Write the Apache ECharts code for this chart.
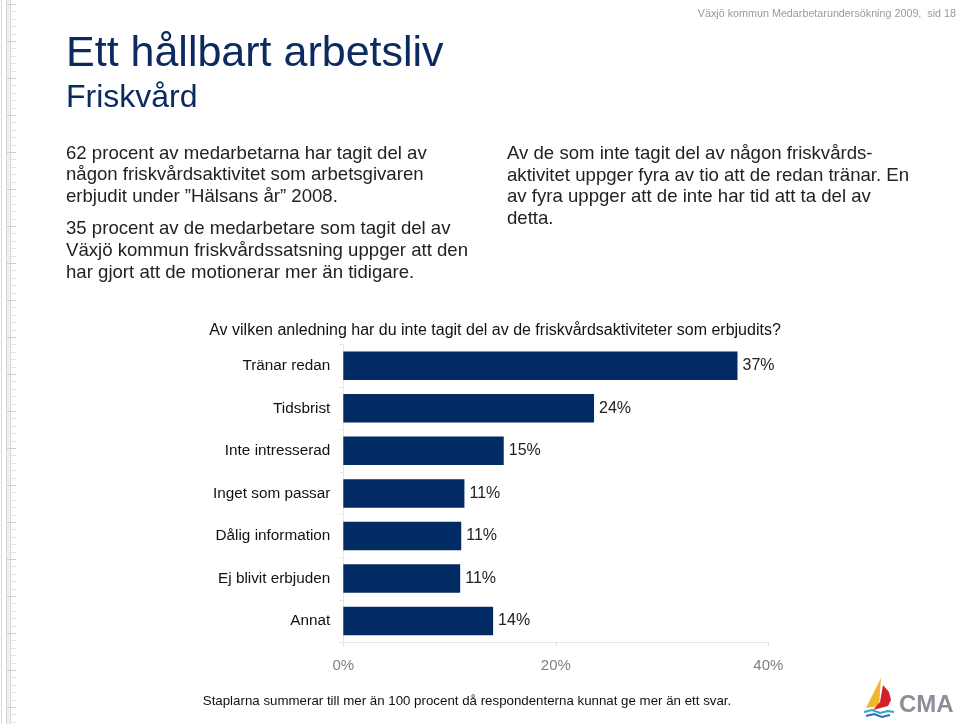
<!DOCTYPE html>
<html>
<head>
<meta charset="utf-8">
<script src="https://cdn.jsdelivr.net/npm/echarts@6/dist/echarts.min.js"></script>
<style>
html,body{margin:0;padding:0;background:#fff;}
#chart{width:960px;height:724px;}
</style>
</head>
<body>
<div id="chart"></div>
<script>
// ---- Data ----
var categories = ['Tränar redan', 'Tidsbrist', 'Inte intresserad', 'Inget som passar', 'Dålig information', 'Ej blivit erbjuden', 'Annat'];
var values = [37.1, 23.6, 15.1, 11.4, 11.1, 11.0, 14.1];
var axisTicks = [0, 20, 40];

var titleText = 'Ett hållbart arbetsliv';
var subtitleText = 'Friskvård';
var headerText = 'Växjö kommun Medarbetarundersökning 2009,  sid 18';
var leftLines = [
  '62 procent av medarbetarna har tagit del av',
  'någon friskvårdsaktivitet som arbetsgivaren',
  'erbjudit under \u201dHälsans år\u201d 2008.',
  '35 procent av de medarbetare som tagit del av',
  'Växjö kommun friskvårdssatsning uppger att den',
  'har gjort att de motionerar mer än tidigare.'
];
var rightLines = [
  'Av de som inte tagit del av någon friskvårds-',
  'aktivitet uppger fyra av tio att de redan tränar. En',
  'av fyra uppger att de inte har tid att ta del av',
  'detta.'
];
var chartQuestion = 'Av vilken anledning har du inte tagit del av de friskvårdsaktiviteter som erbjudits?';
var footnote = 'Staplarna summerar till mer än 100 procent då respondenterna kunnat ge mer än ett svar.';

var FONT = '"Liberation Sans", Arial, sans-serif';
var NAVY = '#0b2b60';

var graphics = [];
function txt(x, y, s, size, color, align, extra) {
  var st = {text: s, x: x, y: y, fontSize: size, fontFamily: FONT, fill: color, textAlign: align || 'left', textVerticalAlign: 'middle'};
  if (extra) for (var k in extra) st[k] = extra[k];
  graphics.push({type: 'text', silent: true, style: st});
}

// left ruler decoration
graphics.push({type: 'rect', silent: true, shape: {x: 6, y: 0, width: 4, height: 724}, style: {fill: '#f0f0f0'}});
[1, 6, 10].forEach(function (x) {
  graphics.push({type: 'line', silent: true, shape: {x1: x + 0.5, y1: 0, x2: x + 0.5, y2: 724}, style: {stroke: '#d8d8d8', lineWidth: 1}});
});
for (var yy = 4, i = 0; yy < 724; yy += 7.4, i++) {
  var major = (i % 5 === 0);
  graphics.push({type: 'line', silent: true, shape: {x1: major ? 6 : 10, y1: Math.round(yy) + 0.5, x2: 16, y2: Math.round(yy) + 0.5}, style: {stroke: major ? '#cfcfcf' : '#e2e2e2', lineWidth: 1}});
}

// header & titles
txt(956, 14, headerText, 10.75, '#9a9a9a', 'right');
txt(66, 54, titleText, 43, NAVY, 'left');
txt(66, 98, subtitleText, 32, NAVY, 'left');

var leftY = [154, 175, 197, 229, 251, 272.5];
leftLines.forEach(function (s, i) { txt(66, leftY[i], s, 18.6, '#222', 'left'); });
var rightY = [154, 175.5, 197, 218.5];
rightLines.forEach(function (s, i) { txt(507, rightY[i], s, 18.6, '#222', 'left'); });

txt(495, 331, chartQuestion, 16, '#111', 'center');
txt(467, 701, footnote, 13.3, '#111', 'center');

// CMA logo
graphics.push({type: 'polygon', silent: true, shape: {points: [[881, 678], [866, 708], [879, 706]]}, style: {fill: '#f2b530'}});
graphics.push({type: 'polygon', silent: true, shape: {points: [[883, 685], [889, 692], [891, 700], [888, 706], [873, 710], [880, 702]]}, style: {fill: '#d2232a'}});
graphics.push({type: 'polyline', silent: true, shape: {points: [[864, 712], [872, 710], [880, 713], [888, 711], [894, 712]]}, style: {stroke: '#2aa7c9', lineWidth: 2, fill: 'none'}});
graphics.push({type: 'polyline', silent: true, shape: {points: [[866, 716], [874, 714], [882, 717], [890, 715]]}, style: {stroke: '#2f6db5', lineWidth: 2, fill: 'none'}});
txt(899, 705, 'CMA', 24, '#8a9097', 'left', {fontWeight: 'bold'});

var chart = echarts.init(document.getElementById('chart'), null, {renderer: 'canvas'});
chart.setOption({
  animation: false,
  backgroundColor: '#ffffff',
  textStyle: {fontFamily: FONT},
  grid: {left: 343.3, right: 191.7, top: 344.5, bottom: 81.7, containLabel: false},
  xAxis: {
    type: 'value', min: axisTicks[0], max: axisTicks[axisTicks.length - 1], interval: axisTicks[1] - axisTicks[0],
    splitLine: {show: false},
    axisLine: {show: true, lineStyle: {color: '#e6e6e6'}},
    axisTick: {show: true, length: 4, lineStyle: {color: '#e0e0e0'}},
    axisLabel: {formatter: '{value}%', fontSize: 15, color: '#7f7f7f', margin: 16, fontFamily: FONT}
  },
  yAxis: {
    type: 'category', inverse: true, data: categories,
    axisLine: {show: true, lineStyle: {color: '#e6e6e6'}},
    axisTick: {show: true, length: 4, lineStyle: {color: '#e6e6e6'}},
    axisLabel: {fontSize: 15.3, color: '#111', margin: 13, fontFamily: FONT}
  },
  series: [{
    type: 'bar', data: values, barCategoryGap: '33%',
    itemStyle: {color: '#032b63'},
    label: {show: true, position: 'right', distance: 5, fontSize: 16, color: '#222', fontFamily: FONT,
      formatter: function (p) { return Math.round(p.value) + '%'; }}
  }],
  graphic: graphics
});
</script>
</body>
</html>
